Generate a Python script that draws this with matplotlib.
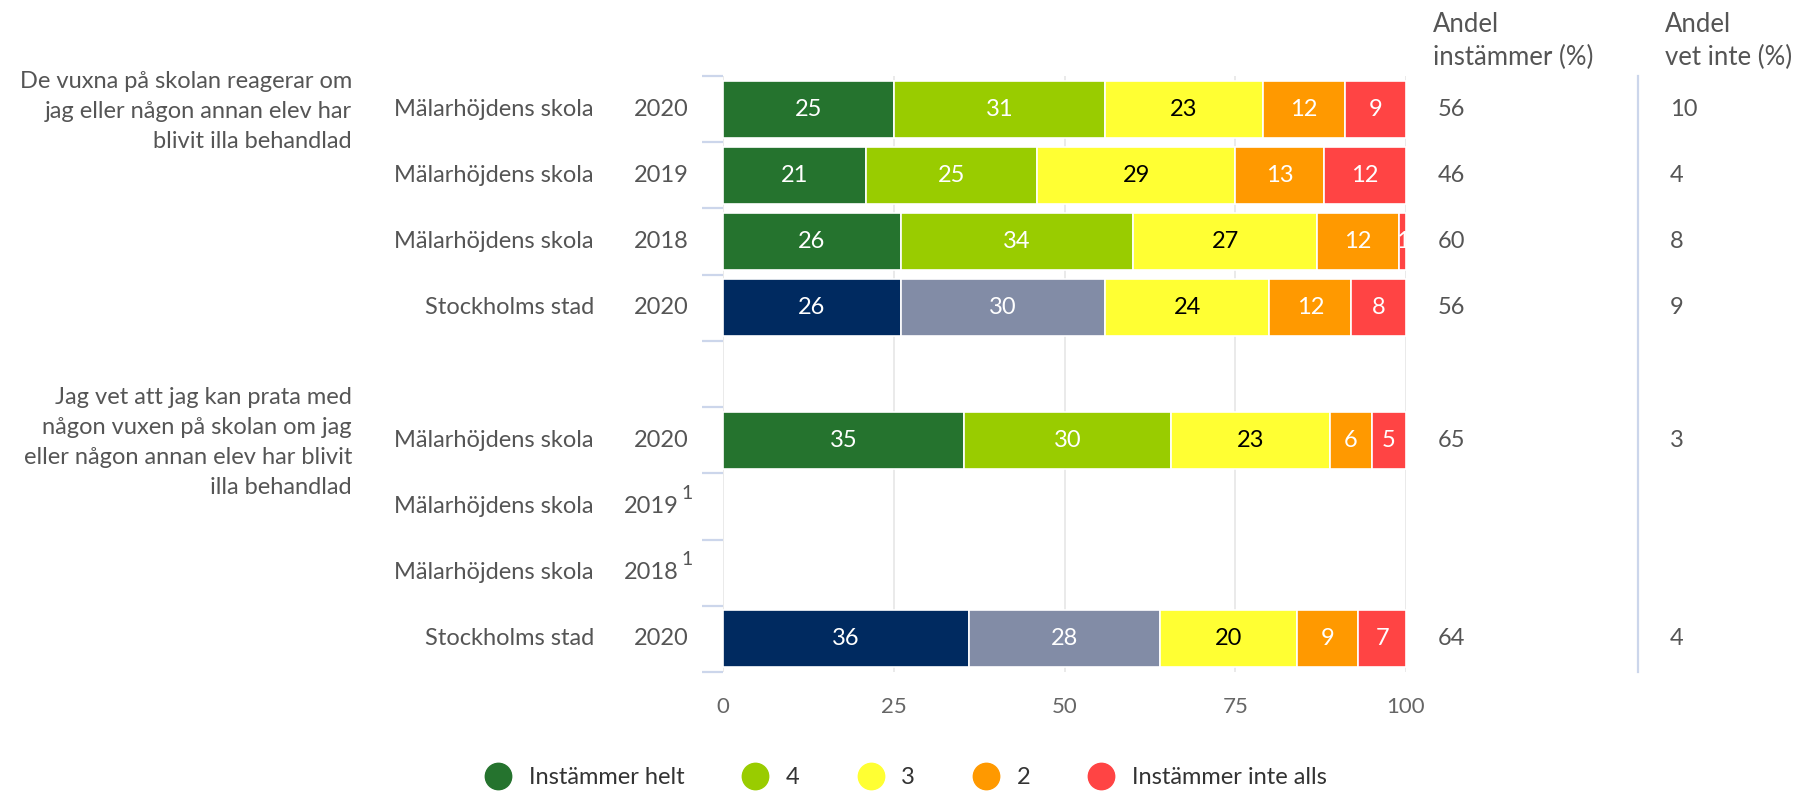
import matplotlib.pyplot as plt
import numpy as np
from matplotlib.lines import Line2D
from matplotlib import transforms

plt.rcParams['font.family'] = ['Lato', 'DejaVu Sans']

questions = [["De vuxna på skolan reagerar om", "jag eller någon annan elev har", "blivit illa behandlad"],
             ["Jag vet att jag kan prata med", "någon vuxen på skolan om jag",
              "eller någon annan elev har blivit", "illa behandlad"]]
units = ["Mälarhöjdens skola", "Mälarhöjdens skola", "Mälarhöjdens skola", "Stockholms stad",
         "Mälarhöjdens skola", "Mälarhöjdens skola", "Mälarhöjdens skola", "Stockholms stad"]
years = ["2020", "2019", "2018", "2020", "2020", "2019", "2018", "2020"]
footnote = [False, False, False, False, False, True, True, False]
slots = [0, 1, 2, 3, 5, 6, 7, 8]

series_names = ["Instämmer helt", "4", "3", "2", "Instämmer inte alls"]
helt = [25, 21, 26, 26, 35, np.nan, np.nan, 36]
s4 = [31, 25, 34, 30, 30, np.nan, np.nan, 28]
s3 = [23, 29, 27, 24, 23, np.nan, np.nan, 20]
s2 = [12, 13, 12, 12, 6, np.nan, np.nan, 9]
inte = [9, 12, 1, 8, 5, np.nan, np.nan, 7]
andel_instammer = [56, 46, 60, 56, 65, None, None, 64]
andel_vet_inte = [10, 4, 8, 9, 3, None, None, 4]

colors = ["#25732e", "#99cc00", "#ffff33", "#ff9900", "#ff4444"]
city_colors = ["#002a60", "#828ca6"]
text_colors = ["white", "white", "black", "white", "white"]
label_col = "#555555"
fs = 17

W, H = 1793, 792
fig = plt.figure(figsize=(W / 100, H / 100), dpi=100)
ax = fig.add_axes([723 / W, 1 - 672 / H, 683 / W, 596 / H])

data = np.array([helt, s4, s3, s2, inte], dtype=float)
totals = np.nansum(data, axis=0)
pct = data / np.where(totals == 0, 1, totals) * 100

for i, slot in enumerate(slots):
    if np.isnan(data[0, i]):
        continue
    left = 0
    for k in range(5):
        c = colors[k]
        if units[i] == "Stockholms stad" and k < 2:
            c = city_colors[k]
        w = pct[k, i]
        ax.barh(slot + 0.5, w, left=left, height=0.86, color=c, edgecolor="white", linewidth=1.2, zorder=3)
        ax.text(left + w / 2, slot + 0.5, f"{int(data[k, i])}", ha="center", va="center",
                color=text_colors[k], fontsize=fs, zorder=4)
        left += w

ax.set_xlim(0, 100)
ax.set_ylim(9, 0)
ax.set_xticks([0, 25, 50, 75, 100])
ax.set_yticks(range(10))
ax.set_yticklabels([])
ax.tick_params(axis="y", length=15, width=1.6, color="#ccd6eb")
ax.tick_params(axis="x", length=0, pad=18, labelsize=16, labelcolor="#666666")
ax.grid(axis="x", color="#e6e6e6", linewidth=1.2, zorder=0)
for s in ax.spines.values():
    s.set_visible(False)

trans = transforms.blended_transform_factory(fig.transFigure, ax.transData)
for i, slot in enumerate(slots):
    y = slot + 0.5
    ax.text(594 / W, y, units[i], transform=trans, ha="right", va="center", fontsize=fs, color=label_col)
    if footnote[i]:
        ax.text(679 / W, y, years[i], transform=trans, ha="right", va="center", fontsize=fs, color=label_col)
        ax.text(681 / W, y - 0.2, "1", transform=trans, ha="left", va="center", fontsize=14, color=label_col)
    else:
        ax.text(689 / W, y, years[i], transform=trans, ha="right", va="center", fontsize=fs, color=label_col)
    if andel_instammer[i] is not None:
        ax.text(1438 / W, y, str(andel_instammer[i]), transform=trans, ha="left", va="center",
                fontsize=fs, color=label_col)
        ax.text(1670 / W, y, str(andel_vet_inte[i]), transform=trans, ha="left", va="center",
                fontsize=fs, color=label_col)

# question labels, one text per line (30 px apart)
step = 30 / 66.2
for lines, y0 in zip(questions, [0.09, 4.85]):
    for j, line in enumerate(lines):
        ax.text(352 / W, y0 + j * step, line, transform=trans, ha="right", va="center",
                fontsize=fs, color=label_col)

for x0, lines in [(1433, ["Andel", "instämmer (%)"]), (1665, ["Andel", "vet inte (%)"])]:
    for j, line in enumerate(lines):
        fig.text(x0 / W, 1 - (24 + 33 * j) / H, line, ha="left", va="center", fontsize=18.5,
                 color=label_col)
ax.plot([134, 134], [0, 9], color="#ccd6eb", linewidth=1.6, clip_on=False)

handles = [Line2D([], [], marker="o", linestyle="none", markersize=19, color=c) for c in colors]
fig.legend(handles, series_names, loc="center", bbox_to_anchor=(0.505, 1 - 778 / H), ncol=5,
           frameon=False, fontsize=fs, handlelength=1.2, handletextpad=0.7, columnspacing=2.4,
           labelcolor="#333333")

fig.savefig("out.png", dpi=100)
